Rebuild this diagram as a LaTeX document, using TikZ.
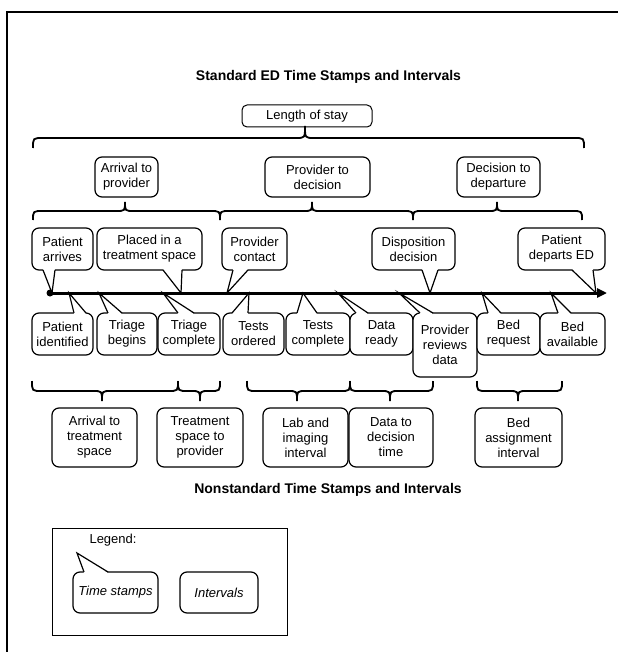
\documentclass[tikz,border=0pt]{standalone}
\usepackage{fontspec}
\setmainfont{Liberation Sans}
\usetikzlibrary{arrows.meta,calc}
\tikzset{
  lbl/.style={font=\fontsize{13}{15}\selectfont, align=center},
  rbox/.style={lbl, draw, line width=1.2pt, rounded corners=7pt, fill=white, inner sep=0pt, outer sep=0pt},
  ptrline/.style={line width=1.2pt, line join=miter},
  bracel/.style={line width=1.8pt},
  ttl/.style={font=\fontsize{14}{16}\selectfont\bfseries},
}
\newcommand\topptr[4]{%
  \fill[white] ($(#2,0 |- #1.south)+(0,-1)$) -- (#4) -- ($(#3,0 |- #1.south)+(0,-1)$) -- cycle;
  \draw[ptrline] (#2,0 |- #1.south) -- (#4) -- (#3,0 |- #1.south);}
\newcommand\botptr[4]{%
  \fill[white] ($(#2,0 |- #1.north)+(0,1)$) -- (#4) -- ($(#3,0 |- #1.north)+(0,1)$) -- cycle;
  \draw[ptrline] (#2,0 |- #1.north) -- (#4) -- (#3,0 |- #1.north);}
\newcommand\wbrace[6]{%
  \draw[bracel] (#1,#4) .. controls (#1,#5) .. (#1+10,#5) -- (#3-9,#5)
    .. controls (#3,#5) .. (#3,#6) .. controls (#3,#5) .. (#3+9,#5)
    -- (#2-10,#5) .. controls (#2,#5) .. (#2,#4);}
\begin{document}
\begin{tikzpicture}[x=1pt,y=-1pt]
\useasboundingbox (0,0) rectangle (618,652);
% frame
\draw[line width=1.5pt] (7,652) -- (7,12) -- (618,12);
% titles
\node[ttl] (t1) at (328.5,77) {Standard ED Time Stamps and Intervals};
\node[ttl] (t2) at (328,490) {Nonstandard Time Stamps and Intervals};
% top level
\node[rbox, line width=1pt, rounded corners=5pt, minimum width=130pt, minimum height=22pt] (los) at (307,116) {Length of stay};
\wbrace{33}{584}{305}{148}{138}{126}
\node[rbox, minimum width=63pt, minimum height=40pt] (ap) at (126.5,177) {Arrival to\\provider};
\node[rbox, minimum width=105pt, minimum height=40pt] (pdn) at (317.5,177) {Provider to\\decision};
\node[rbox, minimum width=83pt, minimum height=40pt] (ddp) at (498.5,177) {Decision to\\departure};
\wbrace{33}{220}{125}{220}{211}{202}
\wbrace{220}{413}{312}{220}{211}{202}
\wbrace{413}{582}{497}{220}{211}{202}
% timeline coordinates
\coordinate (tl0) at (50,293);
\coordinate (tl1) at (607,293);
\coordinate (tPA) at (52,293);
\coordinate (tPT) at (181,293);
\coordinate (tPC) at (227,293);
\coordinate (tDD) at (430,293);
\coordinate (tPD) at (596,293);
\coordinate (tPI) at (69,293);
\coordinate (tTB) at (99,293);
\coordinate (tTC) at (163,293);
\coordinate (tTO) at (249,293);
\coordinate (tTM) at (303,293);
\coordinate (tDR) at (338,293);
\coordinate (tPR) at (399,293);
\coordinate (tBR) at (482,293);
\coordinate (tBA) at (551,293);
% top callouts
\node[rbox, minimum width=61pt, minimum height=42pt] (pa) at (62.5,249) {Patient\\arrives};
\node[rbox, minimum width=105pt, minimum height=42pt] (pt) at (149.5,249) {Placed in a\\treatment space};
\node[rbox, minimum width=65pt, minimum height=42pt] (pc) at (254.5,249) {Provider\\contact};
\node[rbox, minimum width=83pt, minimum height=42pt] (dd) at (413.5,249) {Disposition\\decision};
\node[rbox, minimum width=87pt, minimum height=42pt] (pd) at (561.5,249) {Patient\\departs ED};
\topptr{pa}{43}{55}{tPA}
\topptr{pt}{163}{182}{tPT}
\topptr{pc}{233}{248}{tPC}
\topptr{dd}{422}{438}{tDD}
\topptr{pd}{572}{593}{tPD}
% bottom callouts
\node[rbox, minimum width=61pt, minimum height=42pt] (pi) at (62.5,334) {Patient\\identified};
\node[rbox, minimum width=60pt, minimum height=42pt] (tb) at (127,334) {Triage\\begins};
\node[rbox, minimum width=62pt, minimum height=42pt] (tc) at (189,334) {Triage\\complete};
\node[rbox, minimum width=61pt, minimum height=42pt] (to) at (253.5,334) {Tests\\ordered};
\node[rbox, minimum width=64pt, minimum height=42pt] (tm) at (318,334) {Tests\\complete};
\node[rbox, minimum width=63pt, minimum height=42pt] (dr) at (381.5,334) {Data\\ready};
\node[rbox, minimum width=64pt, minimum height=64pt] (pr) at (445,345) {Provider\\reviews\\data};
\node[rbox, minimum width=63pt, minimum height=42pt] (br) at (508.5,334) {Bed\\request};
\node[rbox, minimum width=65pt, minimum height=42pt] (ba) at (572.5,334) {Bed\\available};
\botptr{pi}{74}{86}{tPI}
\botptr{tb}{108}{122}{tTB}
\botptr{tc}{178}{194}{tTC}
\botptr{to}{232}{248}{tTO}
\botptr{tm}{297}{317}{tTM}
\botptr{dr}{356}{368}{tDR}
\botptr{pr}{420}{433}{tPR}
\botptr{br}{488}{501}{tBR}
\botptr{ba}{558}{571}{tBA}
% timeline
\draw[line width=3pt, -{Triangle[length=10pt,width=9pt]}] (tl0) -- (tl1);
\fill (tl0) circle (3.5pt);
% bottom braces
\wbrace{32}{178}{102}{381}{391}{401}
\wbrace{178}{220}{200}{381}{391}{401}
\wbrace{247}{350}{297}{381}{391}{401}
\wbrace{350}{433}{390}{381}{391}{401}
\wbrace{477}{562}{518}{381}{391}{401}
% interval boxes
\node[rbox, minimum width=85pt, minimum height=59pt] (ats) at (94.5,437.5) {Arrival to\\treatment\\space};
\node[rbox, minimum width=86pt, minimum height=59pt] (tsp) at (200,437.5) {Treatment\\space to\\provider};
\node[rbox, minimum width=85pt, minimum height=59pt] (lii) at (305.5,437.5) {Lab and\\imaging\\interval};
\node[rbox, minimum width=84pt, minimum height=59pt] (ddt) at (391,437.5) {Data to\\decision\\time};
\node[rbox, minimum width=87pt, minimum height=59pt] (bai) at (518.5,437.5) {Bed\\assignment\\interval};
% legend
\node[draw, line width=0.8pt, minimum width=235pt, minimum height=107pt, inner sep=0pt] (leg) at (169.5,581.5) {};
\node[lbl, anchor=west] (legt) at (86,540) {Legend:};
\coordinate (tLeg) at (77,553);
\node[rbox, minimum width=85pt, minimum height=41pt] (lts) at (115.5,592.5) {\itshape Time stamps};
\node[rbox, minimum width=78pt, minimum height=41pt] (lint) at (219,592.5) {\itshape Intervals};
\botptr{lts}{84}{108}{tLeg}
\end{tikzpicture}
\end{document}
